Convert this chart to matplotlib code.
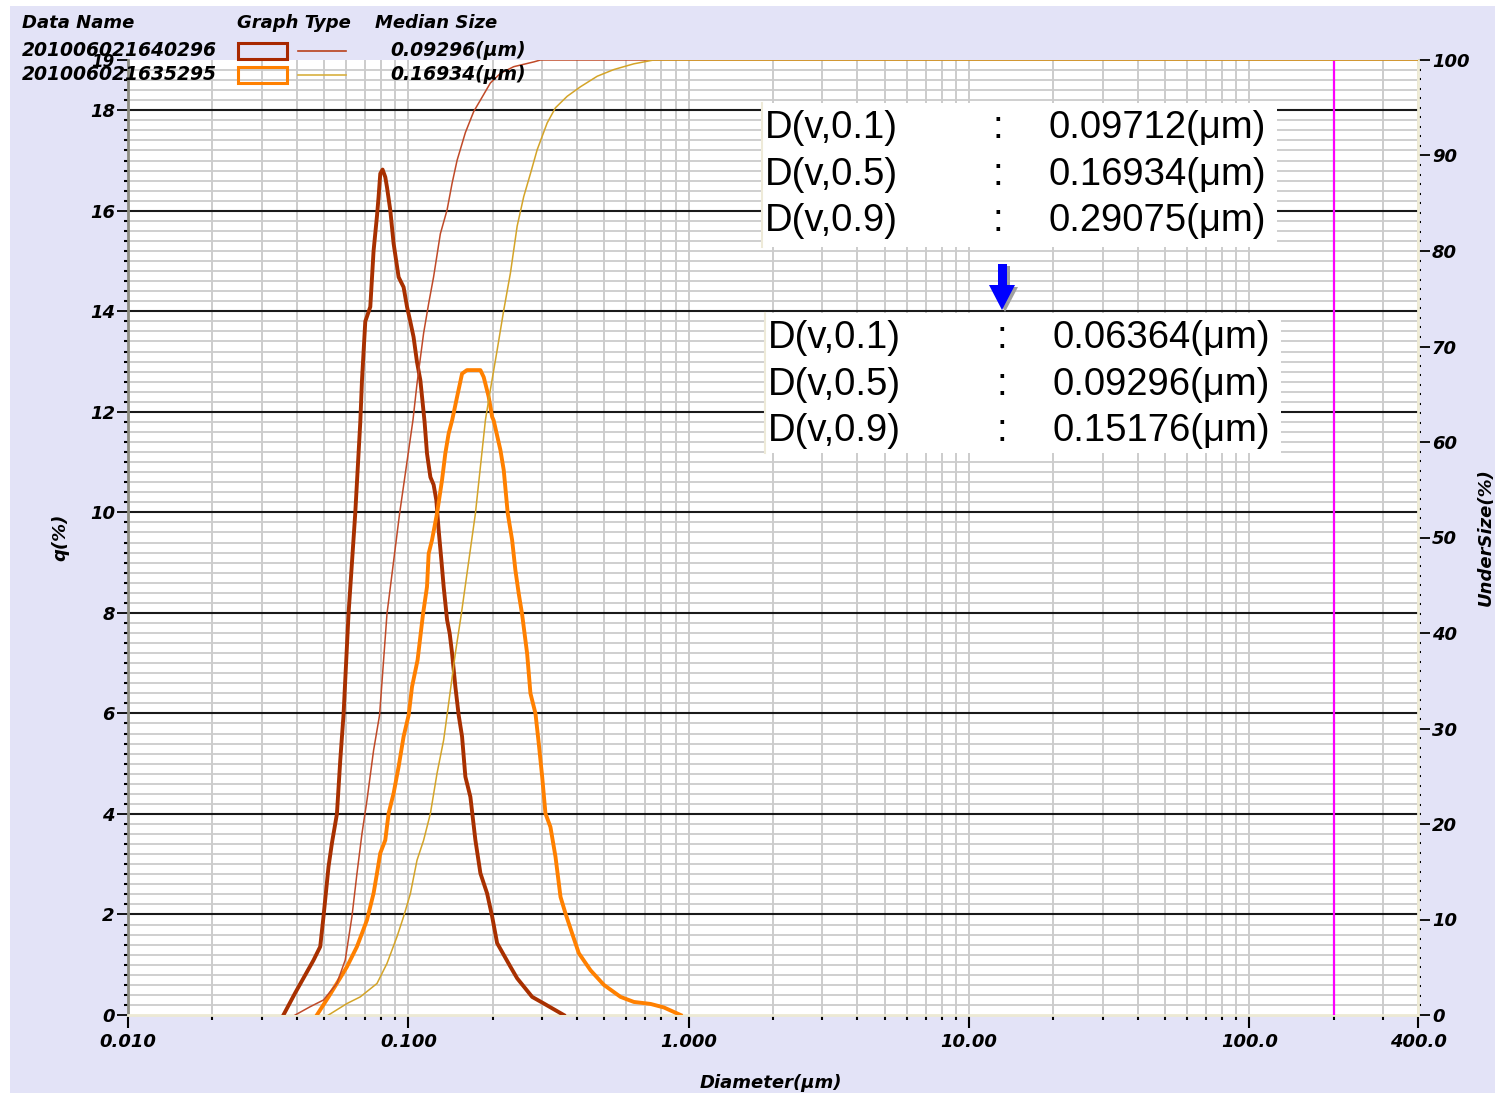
import numpy as np
import matplotlib
matplotlib.use("Agg")
import matplotlib.pyplot as plt
from matplotlib.patches import Rectangle, Polygon
from matplotlib.lines import Line2D
from matplotlib.ticker import FixedLocator, MultipleLocator, NullFormatter

# ---- data ----
# sample 1 : 201006021640296  (median 0.09296 um)
d_q1 = [0.03585, 0.03949, 0.04590, 0.04850, 0.04983, 0.05192, 0.05340, 0.05563,
        0.05718, 0.05873, 0.06120, 0.06465, 0.06741, 0.06835, 0.07023, 0.07318,
        0.07517, 0.07732, 0.07832, 0.07943, 0.08095, 0.08277, 0.08393, 0.08624,
        0.08862, 0.09235, 0.09621, 0.09894, 0.1017, 0.1044, 0.1074, 0.1104,
        0.1143, 0.1166, 0.1199, 0.1231, 0.1259, 0.1283, 0.1312, 0.1337, 0.1375,
        0.1405, 0.1433, 0.1472, 0.1512, 0.1555, 0.1598, 0.1665, 0.1735, 0.1808,
        0.1910, 0.1991, 0.2074, 0.2314, 0.2445, 0.2766, 0.3042, 0.3585]
q1 = [0.0, 0.44, 1.09, 1.36, 1.96, 2.95, 3.42, 4.00,
      5.07, 5.97, 7.98, 9.97, 11.80, 12.63, 13.80, 14.09,
      15.20, 15.90, 16.27, 16.74, 16.82, 16.67, 16.47, 16.01,
      15.35, 14.68, 14.48, 14.09, 13.79, 13.49, 12.99, 12.63,
      11.80, 11.17, 10.70, 10.55, 10.24, 9.65, 9.05, 8.52, 7.86,
      7.59, 7.19, 6.53, 5.97, 5.54, 4.74, 4.34, 3.48, 2.82,
      2.42, 1.96, 1.43, 0.96, 0.73, 0.36, 0.23, 0.0]

d_u1 = [0.03949, 0.04467, 0.04983, 0.05563, 0.05957, 0.06293, 0.06558, 0.06835,
        0.07122, 0.07517, 0.07897, 0.08393, 0.09309, 0.1039, 0.1074, 0.1134,
        0.1182, 0.1231, 0.1301, 0.1375, 0.1433, 0.1493, 0.1598, 0.1711, 0.1808,
        0.1963, 0.2131, 0.2377, 0.2803, 0.2961, 400.0]
u1 = [0.0, 0.87, 1.57, 3.32, 5.76, 10.3, 14.8, 19.0,
      22.5, 27.7, 31.4, 42.0, 52.5, 62.3, 66.1, 71.4,
      74.5, 77.3, 81.8, 84.3, 87.1, 89.5, 92.4, 94.6, 95.8,
      97.6, 98.6, 99.3, 99.8, 100.0, 100.0]

# sample 2 : 201006021635295  (median 0.16934 um)
d_q2 = [0.04720, 0.05192, 0.05563, 0.06041, 0.06558, 0.07122, 0.07517, 0.07732,
        0.07943, 0.08277, 0.08505, 0.08862, 0.09235, 0.09621, 0.1003, 0.1031,
        0.1079, 0.1128, 0.1166, 0.1182, 0.1215, 0.1266, 0.1319, 0.1355, 0.1393,
        0.1433, 0.1493, 0.1555, 0.1619, 0.1808, 0.1858, 0.1935, 0.1991, 0.2016,
        0.2131, 0.2190, 0.2263, 0.2346, 0.2410, 0.2476, 0.2547, 0.2654, 0.2727,
        0.2842, 0.2920, 0.3003, 0.3085, 0.3214, 0.3350, 0.3491, 0.3637, 0.3842,
        0.4057, 0.4467, 0.4983, 0.5718, 0.6376, 0.7317, 0.8162, 0.9363]
q2 = [0.0, 0.36, 0.63, 0.96, 1.36, 1.89, 2.42, 2.82,
      3.22, 3.48, 4.01, 4.41, 4.94, 5.54, 5.97, 6.53,
      7.06, 7.97, 8.52, 9.18, 9.45, 9.98, 10.64, 11.17, 11.57,
      11.83, 12.30, 12.76, 12.83, 12.83, 12.69, 12.30, 11.90, 11.83,
      11.24, 10.84, 9.98, 9.45, 8.85, 8.39, 7.97, 7.19, 6.40,
      6.00, 5.40, 4.74, 4.01, 3.74, 3.15, 2.35, 2.02, 1.62,
      1.23, 0.89, 0.60, 0.36, 0.26, 0.22, 0.15, 0.0]

d_u2 = [0.05192, 0.06041, 0.06741, 0.07732, 0.08393, 0.09113, 0.09621, 0.1017,
        0.1074, 0.1134, 0.1199, 0.1266, 0.1337, 0.1375, 0.1472, 0.1546, 0.1735,
        0.1884, 0.1963, 0.2074, 0.2190, 0.2314, 0.2445, 0.2581, 0.2727, 0.2882,
        0.3128, 0.3350, 0.3688, 0.4114, 0.4720, 0.5411, 0.6376, 0.6923, 0.7499,
        400.0]
u2 = [0.0, 1.2, 1.9, 3.3, 5.4, 8.2, 10.3, 12.7,
      16.2, 18.3, 21.1, 25.3, 28.8, 31.4, 37.9, 42.0, 52.5,
      62.3, 65.5, 69.6, 73.8, 77.7, 82.6, 85.7, 88.1, 90.6,
      93.4, 95.0, 96.2, 97.2, 98.3, 99.0, 99.6, 99.8, 100.0,
      100.0]

names = ["201006021640296", "201006021635295"]
medians = ["0.09296(μm)", "0.16934(μm)"]
stats_before = [("D(v,0.1)", "0.09712(μm)"), ("D(v,0.5)", "0.16934(μm)"), ("D(v,0.9)", "0.29075(μm)")]
stats_after = [("D(v,0.1)", "0.06364(μm)"), ("D(v,0.5)", "0.09296(μm)"), ("D(v,0.9)", "0.15176(μm)")]
x_major = [0.01, 0.1, 1.0, 10.0, 100.0, 400.0]
x_labels = ["0.010", "0.100", "1.000", "10.00", "100.0", "400.0"]
marker_size = 200.0

# colours
c_q1 = "#A83000"
c_q2 = "#FF8000"
c_u1 = "#C04A28"
c_u2 = "#D4A428"
lavender = "#E3E3F7"

W, H = 1495, 1095
plt.rcParams["font.family"] = ["DejaVu Sans"]
plt.rcParams["font.weight"] = "bold"
plt.rcParams["font.style"] = "italic"

fig = plt.figure(figsize=(W / 100, H / 100), dpi=100, facecolor="white")


def fx(px):
    return px / W


def fy(py):
    return 1 - py / H


# lavender panel
fig.patches.append(Rectangle((fx(10), fy(1093)), fx(1495 - 10), (1093 - 6) / H,
                             transform=fig.transFigure, facecolor=lavender,
                             edgecolor="none", zorder=-10))

ax = fig.add_axes([fx(128), fy(1015), (1418 - 128) / W, (1015 - 60) / H])
ax.set_facecolor("white")
ax.set_xscale("log")
ax.set_xlim(0.01, 400)
ax.set_ylim(0, 19)

ax.xaxis.set_major_locator(FixedLocator(x_major))
ax.set_xticklabels(x_labels)
minor_x = [m * 10.0 ** e for e in range(-2, 3) for m in range(2, 10) if m * 10.0 ** e < 400]
ax.xaxis.set_minor_locator(FixedLocator(minor_x))
ax.xaxis.set_minor_formatter(NullFormatter())

ax.set_yticks(list(range(0, 19, 2)) + [19])
ax.yaxis.set_minor_locator(MultipleLocator(0.2))

ax.tick_params(axis="x", which="major", length=9, width=1.5, pad=4, labelsize=13, colors="black")
ax.tick_params(axis="x", which="minor", length=3.5, width=1.5, colors="black")
ax.tick_params(axis="y", which="major", length=8, width=1.3, pad=1.5, labelsize=13)
ax.tick_params(axis="y", which="minor", length=3, width=1.5)
ax.yaxis.get_major_ticks()[-1].label1.set_fontsize(12)

ax.xaxis.grid(True, which="both", color="#C8C8C8", lw=1.3)
ax.yaxis.grid(True, which="minor", color="#CCCCCC", lw=1.3)
ax.yaxis.grid(True, which="major", color="#1A1A1A", lw=1.5)
ytk = ax.yaxis.get_major_ticks()
ytk[0].gridline.set_visible(False)
ytk[-1].gridline.set_visible(False)
ax.set_axisbelow(True)

ax.spines["top"].set_visible(False)
ax.spines["right"].set_visible(False)
ax.spines["left"].set_color("#8C8C80")
ax.spines["left"].set_linewidth(2)
ax.spines["bottom"].set_color("#ECE9D4")
ax.spines["bottom"].set_linewidth(2)

ax.axvline(marker_size, color="#FF00FF", lw=1.6, zorder=3)

ax.plot(d_q1, q1, color=c_q1, lw=2.8, zorder=4)
ax.plot(d_q2, q2, color=c_q2, lw=2.8, zorder=4)

ax2 = ax.twinx()
ax2.set_ylim(0, 100)
ax2.set_yticks(range(0, 101, 10))
ax2.yaxis.set_minor_locator(MultipleLocator(1))
ax2.tick_params(axis="y", which="major", length=8.5, width=1.3, pad=1.5, labelsize=13)
ax2.tick_params(axis="y", which="minor", length=2.5, width=1.5)
for s in ["top", "left", "bottom"]:
    ax2.spines[s].set_visible(False)
ax2.spines["right"].set_color("#F0EDD6")
ax2.spines["right"].set_linewidth(2)
ax2.plot(d_u1, u1, color=c_u1, lw=1.1, zorder=5)
ax2.plot(d_u2, u2, color=c_u2, lw=1.1, zorder=5)

# axis titles
fig.text(fx(60), fy(537), "q(%)", rotation=90, ha="center", va="center", fontsize=13)
fig.text(fx(1486), fy(537), "UnderSize(%)", rotation=90, ha="center", va="center", fontsize=13)
fig.text(fx(771), fy(1083), "Diameter(μm)", ha="center", va="center", fontsize=13)

# legend block
fig.text(fx(22), fy(23), "Data Name", ha="left", va="center", fontsize=13)
fig.text(fx(237), fy(23), "Graph Type", ha="left", va="center", fontsize=13)
fig.text(fx(375), fy(23), "Median Size", ha="left", va="center", fontsize=13)
rows_y = [51, 75]
box_cols = ["#A82800", "#FF8000"]
line_cols = ["#B8401C", "#D8B040"]
for i in range(2):
    yy = rows_y[i]
    fig.text(fx(22), fy(yy), names[i], ha="left", va="center", fontsize=13.5, zorder=6)
    fig.patches.append(Rectangle((fx(238), fy(yy + 8)), 49 / W, 16 / H, transform=fig.transFigure,
                                 facecolor="none", edgecolor=box_cols[i], lw=2.2, zorder=6))
    fig.lines.append(Line2D([fx(298), fx(346)], [fy(yy), fy(yy)], transform=fig.transFigure,
                            color=line_cols[i], lw=1.2, zorder=6))
    fig.text(fx(390), fy(yy), medians[i], ha="left", va="center", fontsize=13.5, zorder=6)


# statistic boxes
def stat_box(x0, y0, x1, y1, rows, xs, ys):
    fig.patches.append(Rectangle((fx(x0), fy(y1)), (x1 - x0) / W, (y1 - y0) / H,
                                 transform=fig.transFigure, facecolor="white",
                                 edgecolor="none", zorder=5))
    fig.lines.append(Line2D([fx(x0), fx(x0)], [fy(y0), fy(y1)], transform=fig.transFigure,
                            color="#EEEAD8", lw=1.5, zorder=6))
    for (lab, val), yy in zip(rows, ys):
        kw = dict(va="center", fontsize=27.5, family="Liberation Sans",
                  fontweight="normal", fontstyle="normal", zorder=7)
        fig.text(fx(xs[0]), fy(yy), lab, ha="left", **kw)
        fig.text(fx(xs[1]), fy(yy), ":", ha="center", **kw)
        fig.text(fx(xs[2]), fy(yy), val, ha="left", **kw)


stat_box(762, 103, 1277, 247, stats_before, (765, 998, 1048), (128, 175, 221))
stat_box(765, 313, 1281, 453, stats_after, (768, 1002, 1052), (338, 385, 431))

# blue arrow with shadow
def arrow_poly(dx, dy):
    pts = [(998, 264), (1007, 264), (1007, 285), (1015, 285), (1002, 310),
           (989, 285), (998, 285)]
    return [(fx(px + dx), fy(py + dy)) for px, py in pts]


fig.patches.append(Polygon(arrow_poly(3, 2), closed=True, transform=fig.transFigure,
                           facecolor="#A0A0A0", edgecolor="none", zorder=8))
fig.patches.append(Polygon(arrow_poly(0, 0), closed=True, transform=fig.transFigure,
                           facecolor="#0000FF", edgecolor="none", zorder=9))

fig.savefig("out.png", dpi=100, facecolor=fig.get_facecolor())
